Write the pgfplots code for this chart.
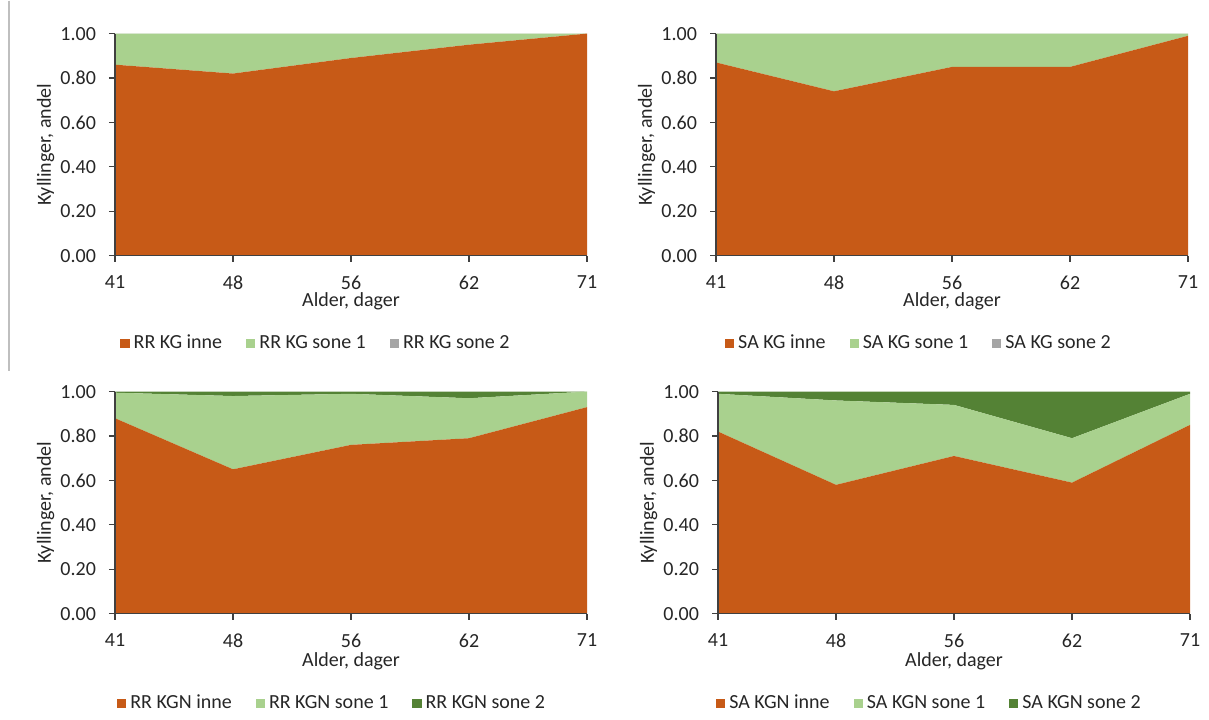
\documentclass[border=0pt]{standalone}
\usepackage{pgfplots}
\pgfplotsset{compat=1.18}
\usepackage{fontspec}
\setmainfont{Carlito}
\definecolor{inne}{HTML}{C75A17}
\definecolor{soneA}{HTML}{A9D18E}
\definecolor{soneB}{HTML}{A5A5A5}
\definecolor{soneC}{HTML}{548235}
\pgfplotsset{
  panel/.style={
    scale only axis, width=236pt, height=111pt,
    xmin=0, xmax=4, ymin=0, ymax=1,
    axis x line*=bottom, axis y line*=left,
    axis line style={black!75, line width=0.6pt},
    xtick={0,1,2,3,4}, xticklabels={41,48,56,62,71},
    ytick={0,0.2,0.4,0.6,0.8,1},
    yticklabel style={/pgf/number format/fixed,/pgf/number format/fixed zerofill,/pgf/number format/precision=2, xshift=-3pt},
    xticklabel style={yshift=-3.5pt},
    /pgf/number format/assume math mode=true,
    tick align=outside, major tick length=3pt,
    tick style={black!75, line width=0.6pt},
    ticklabel style={font=\fontsize{10pt}{12pt}\selectfont, text=black!85},
    label style={font=\fontsize{10pt}{12pt}\selectfont, text=black!85},
    xlabel={Alder, dager}, ylabel={Kyllinger, andel},
    stack plots=y, area style,
    legend columns=3,
    legend style={draw=none, fill=none, font=\fontsize{10pt}{12pt}\selectfont, text=black!85,
      /tikz/every even column/.append style={column sep=10pt}, anchor=center},
    legend image code/.code={\path[##1,draw=none] (0pt,-2.3pt) rectangle (4.6pt,2.3pt);},
    clip=false,
  },
  toppanel/.style={
    x label style={at={(axis description cs:0.5,-0.205)}, anchor=center},
    y label style={at={(axis description cs:-0.147,0.5)}, anchor=center},
  },
  botpanel/.style={
    x label style={at={(axis description cs:0.5,-0.215)}, anchor=center},
    y label style={at={(axis description cs:-0.147,0.5)}, anchor=center},
  },
}
\begin{document}
\begin{tikzpicture}
\path (0,0) rectangle (604.5pt,359pt);
\draw[black!25, line width=0.6pt] (4.5pt,359pt) -- (4.5pt,174pt);
% RR KG
\begin{axis}[panel, toppanel, at={(57.5pt,231.5pt)}, legend style={at={(0.428,-0.395)}}]
\addplot[fill=inne, draw=none] coordinates {(0,0.86) (1,0.82) (2,0.89) (3,0.95) (4,1.00)} \closedcycle;
\addplot[fill=soneA, draw=none] coordinates {(0,0.14) (1,0.18) (2,0.11) (3,0.05) (4,0.00)} \closedcycle;
\addplot[fill=soneB, draw=none] coordinates {(0,0.00) (1,0.00) (2,0.00) (3,0.00) (4,0.00)} \closedcycle;
\legend{RR KG inne, RR KG sone 1, RR KG sone 2}
\end{axis}
% SA KG
\begin{axis}[panel, toppanel, at={(358pt,231.5pt)}, legend style={at={(0.432,-0.395)}}]
\addplot[fill=inne, draw=none] coordinates {(0,0.87) (1,0.74) (2,0.85) (3,0.85) (4,0.99)} \closedcycle;
\addplot[fill=soneA, draw=none] coordinates {(0,0.13) (1,0.26) (2,0.15) (3,0.15) (4,0.01)} \closedcycle;
\addplot[fill=soneB, draw=none] coordinates {(0,0.00) (1,0.00) (2,0.00) (3,0.00) (4,0.00)} \closedcycle;
\legend{SA KG inne, SA KG sone 1, SA KG sone 2}
\end{axis}
% RR KGN
\begin{axis}[panel, botpanel, at={(57.5pt,52.5pt)}, legend style={at={(0.462,-0.405)}}]
\addplot[fill=inne, draw=none] coordinates {(0,0.88) (1,0.65) (2,0.76) (3,0.79) (4,0.93)} \closedcycle;
\addplot[fill=soneA, draw=none] coordinates {(0,0.115) (1,0.33) (2,0.23) (3,0.18) (4,0.07)} \closedcycle;
\addplot[fill=soneC, draw=none] coordinates {(0,0.005) (1,0.02) (2,0.01) (3,0.03) (4,0.00)} \closedcycle;
\legend{RR KGN inne, RR KGN sone 1, RR KGN sone 2}
\end{axis}
% SA KGN
\begin{axis}[panel, botpanel, at={(359pt,52.5pt)}, legend style={at={(0.45,-0.405)}}]
\addplot[fill=inne, draw=none] coordinates {(0,0.82) (1,0.58) (2,0.71) (3,0.59) (4,0.85)} \closedcycle;
\addplot[fill=soneA, draw=none] coordinates {(0,0.17) (1,0.38) (2,0.23) (3,0.20) (4,0.14)} \closedcycle;
\addplot[fill=soneC, draw=none] coordinates {(0,0.01) (1,0.04) (2,0.06) (3,0.21) (4,0.01)} \closedcycle;
\legend{SA KGN inne, SA KGN sone 1, SA KGN sone 2}
\end{axis}
\end{tikzpicture}
\end{document}
